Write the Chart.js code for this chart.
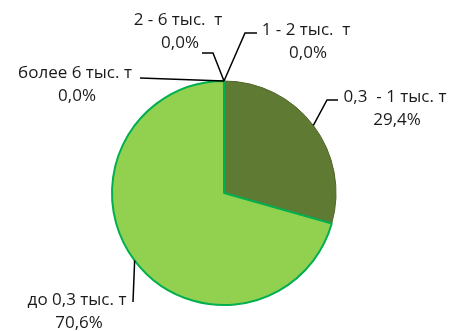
<!DOCTYPE html>
<html>
<head>
<meta charset="utf-8">
<script src="https://cdn.jsdelivr.net/npm/chart.js@4/dist/chart.umd.min.js"></script>
<style>
html,body{margin:0;padding:0;background:#fff;}
#wrap{width:450px;height:331px;position:relative;}
</style>
</head>
<body>
<div id="wrap"><canvas id="c" width="450" height="331"></canvas></div>
<script>
const categories = ["более 6 тыс. т", "2 - 6 тыс.  т", "1 - 2 тыс.  т", "0,3  - 1 тыс. т", "до 0,3 тыс. т"];
const shares = [0.0, 0.0, 0.0, 29.4, 70.6];
const percentLabels = ["0,0%", "0,0%", "0,0%", "29,4%", "70,6%"];

const sliceColors = ["#92D050", "#92D050", "#92D050", "#5F7A33", "#92D050"];
const sliceBorders = ["#00B050", "#00B050", "#00B050", "#4F6228", "#00B050"];
const sliceBorderWidths = [0, 0, 0, 1, 2];

// label layout, offsets relative to pie centre (px): elbow, end of leader, text centre (first line)
const labelLayout = [
  {elbow: [-84, -115], end: [-84, -115], text: [-149, -120]},
  {elbow: [-11, -140], end: [-22, -140], text: [-46, -173]},
  {elbow: [21, -160], end: [33, -160], text: [82, -163]},
  {elbow: [103, -93], end: [114, -93], text: [171, -96]},
  {elbow: [-91, 109], end: [-91, 109], text: [-147, 107]}
];

const labelPlugin = {
  id: 'pieLabels',
  afterDatasetsDraw(chart) {
    const ctx = chart.ctx;
    const meta = chart.getDatasetMeta(0);
    ctx.save();
    meta.data.forEach((arc, i) => {
      const p = arc.getProps(['x', 'y', 'startAngle', 'endAngle', 'outerRadius'], true);
      const mid = (p.startAngle + p.endAngle) / 2;
      const ax = p.x + Math.cos(mid) * p.outerRadius;
      const ay = p.y + Math.sin(mid) * p.outerRadius;
      const L = labelLayout[i];
      ctx.strokeStyle = '#000000';
      ctx.lineWidth = 1.5;
      ctx.beginPath();
      ctx.moveTo(ax, ay);
      ctx.lineTo(p.x + L.elbow[0], p.y + L.elbow[1]);
      ctx.lineTo(p.x + L.end[0], p.y + L.end[1]);
      ctx.stroke();
      ctx.fillStyle = '#1a1a1a';
      ctx.font = '17px "Open Sans", sans-serif';
      ctx.textAlign = 'center';
      ctx.textBaseline = 'middle';
      ctx.fillText(categories[i], p.x + L.text[0], p.y + L.text[1]);
      ctx.fillText(percentLabels[i], p.x + L.text[0] + 2, p.y + L.text[1] + 23);
    });
    ctx.restore();
  }
};

new Chart(document.getElementById('c'), {
  type: 'pie',
  data: {
    labels: categories,
    datasets: [{
      data: shares,
      backgroundColor: sliceColors,
      borderColor: sliceBorders,
      borderWidth: sliceBorderWidths
    }]
  },
  options: {
    responsive: false,
    animation: false,
    layout: {padding: {top: 80, bottom: 25, left: 0, right: 2}},
    plugins: {legend: {display: false}, tooltip: {enabled: false}}
  },
  plugins: [labelPlugin]
});
</script>
</body>
</html>
